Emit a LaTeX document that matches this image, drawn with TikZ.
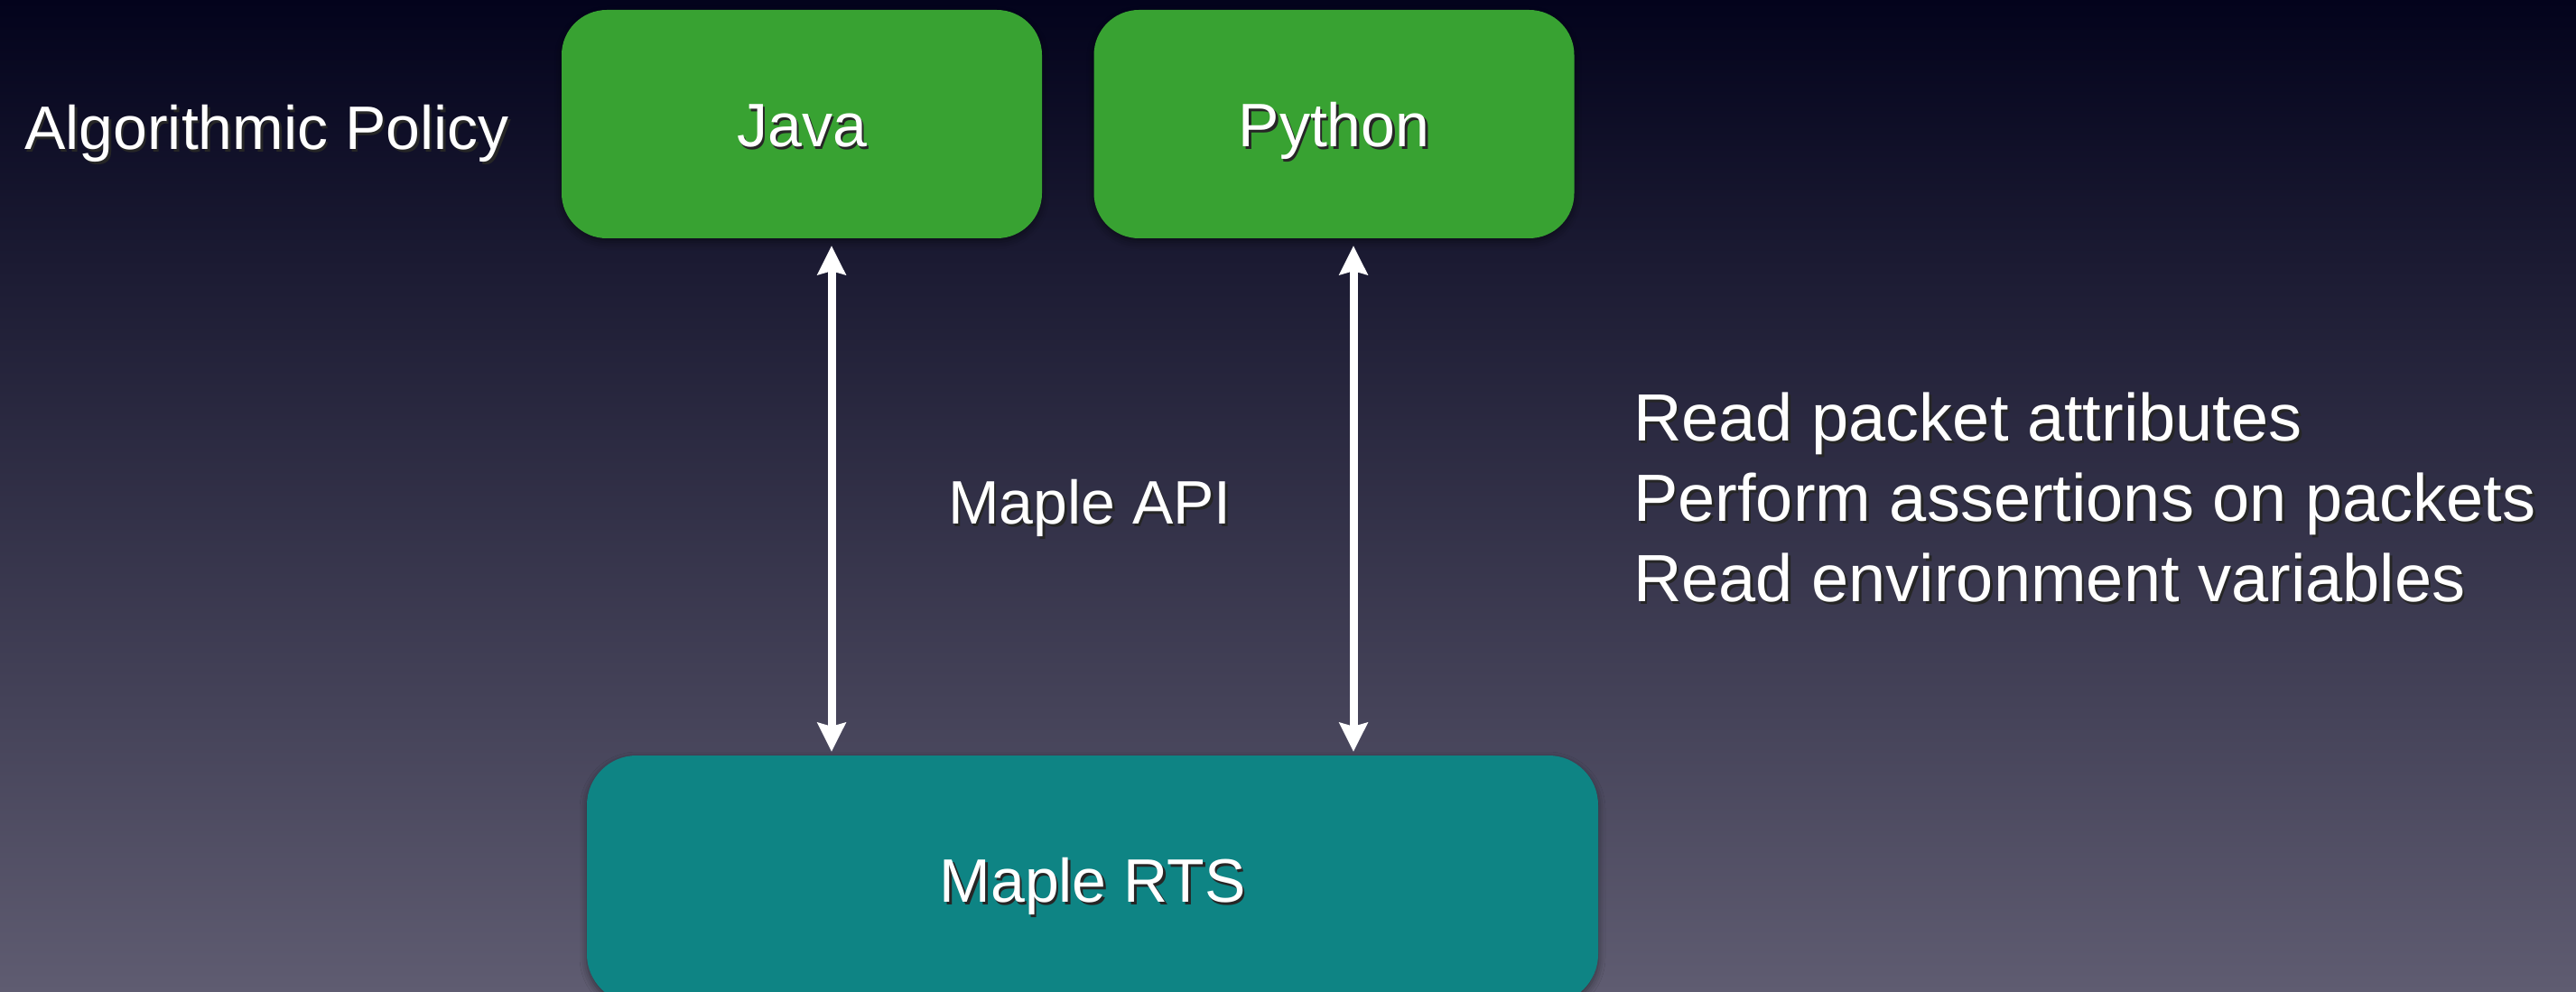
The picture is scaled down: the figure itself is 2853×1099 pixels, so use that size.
\documentclass[tikz,border=0pt]{standalone}
\usepackage{fontspec}
\setmainfont{Liberation Sans}
\usetikzlibrary{arrows.meta,shadows.blur}
\definecolor{bgtop}{HTML}{03031C}
\definecolor{bgmid}{HTML}{33334C}
\definecolor{bgbot}{HTML}{5F5C71}
\definecolor{boxgreen}{HTML}{38A232}
\definecolor{boxteal}{HTML}{0E8484}
\newcommand{\shtext}[1]{\rlap{\hspace{2.5pt}\raisebox{-3pt}{\color{black!85}#1}}#1}
\begin{document}
\begin{tikzpicture}[x=1pt,y=-1pt,
  boxshadow/.style={blur shadow={shadow xshift=0pt, shadow yshift=-4pt, shadow blur radius=8pt, shadow opacity=45}},
  lang/.style={fill=boxgreen, rounded corners=50pt, minimum width=532pt, minimum height=253pt, inner sep=0pt, text=white, font=\fontsize{68}{80}\selectfont, text height=50pt, text depth=0pt, boxshadow},
  rtsbox/.style={fill=boxteal, rounded corners=55pt, minimum width=1120pt, minimum height=275pt, inner sep=0pt, text=white, font=\fontsize{68}{80}\selectfont, text height=50pt, text depth=0pt, boxshadow},
  lbl/.style={inner sep=0pt, text=white, font=\fontsize{68}{80}\selectfont},
  bigl/.style={inner sep=0pt, text=white, font=\fontsize{74}{89}\selectfont},
  biarrow/.style={white, line width=9pt, {Stealth[length=32pt,width=31pt,inset=4pt]}-{Stealth[length=32pt,width=31pt,inset=4pt]}, shorten <=8pt, shorten >=4pt}
]
\useasboundingbox (0,0) rectangle (2853,1099);
\clip (0,0) rectangle (2853,1099);
\shade[top color=bgtop, middle color=bgmid, bottom color=bgbot] (0,0) rectangle (2853,1099);

\node[lang] (java) at (888,137.5) {\shtext{Java}};
\node[lang] (python) at (1477.5,137.5) {\shtext{Python}};
\node[rtsbox] (rts) at (1210,974.5) {\shtext{Maple RTS}};

\node[lbl, anchor=base west] (policy) at (27,166) {\shtext{Algorithmic Policy}};
\node[lbl, anchor=base west] (api) at (1050,580) {\shtext{Maple API}};

\node[bigl, anchor=base west] (read1) at (1809,488) {\shtext{Read packet attributes}};
\node[bigl, anchor=base west] (read2) at (1809,577) {\shtext{Perform assertions on packets}};
\node[bigl, anchor=base west] (read3) at (1809,666) {\shtext{Read environment variables}};

\coordinate (ja) at (921,0);
\coordinate (pa) at (1499,0);
\draw[biarrow] (java.south -| ja) -- (rts.north -| ja);
\draw[biarrow] (python.south -| pa) -- (rts.north -| pa);
\end{tikzpicture}
\end{document}
